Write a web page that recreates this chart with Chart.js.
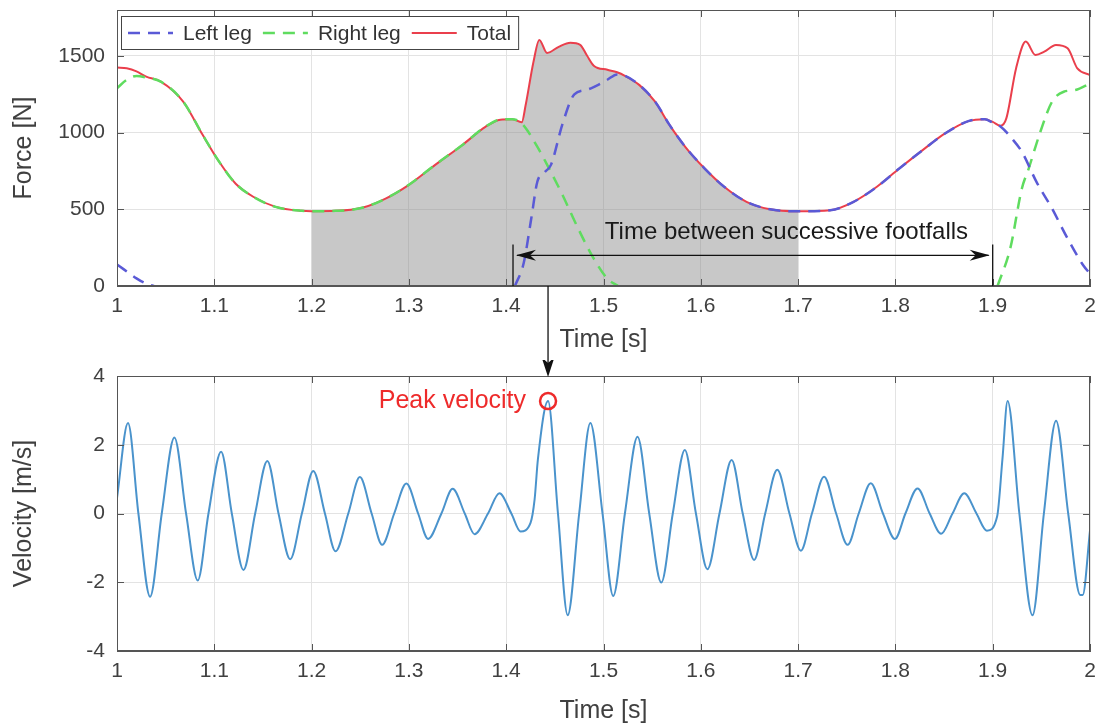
<!DOCTYPE html>
<html>
<head>
<meta charset="utf-8">
<script src="https://cdn.jsdelivr.net/npm/chart.js@4.4.1/dist/chart.umd.min.js"></script>
<style>
  html, body { margin: 0; padding: 0; background: #fff; }
  #top { position: absolute; left: 0; top: 0; width: 1107px; height: 360px; }
  #bottom { position: absolute; left: 0; top: 360px; width: 1107px; height: 367px; }
</style>
</head>
<body>
<div id="top"><canvas id="forceChart"></canvas></div>
<div id="bottom"><canvas id="velChart"></canvas></div>
<script>
// tick values
const timeTicks = [1, 1.1, 1.2, 1.3, 1.4, 1.5, 1.6, 1.7, 1.8, 1.9, 2];
const forceTicks = [0, 500, 1000, 1500];
const velTicks = [-4, -2, 0, 2, 4];

// force traces
const totalT = [1.000,1.010,1.020,1.030,1.045,1.068,1.088,1.105,1.122,1.140,1.163,1.190,1.200,1.225,1.252,1.276,1.300,1.327,1.355,1.379,1.394,1.406,1.416,1.420,1.428,1.434,1.442,1.454,1.466,1.476,1.483,1.490,1.504,1.514,1.522,1.537,1.553,1.568,1.584,1.604,1.624,1.647,1.671,1.700,1.733,1.757,1.781,1.804,1.828,1.851,1.875,1.892,1.900,1.908,1.914,1.924,1.934,1.944,1.953,1.965,1.977,1.987,2.000];
const totalF = [1425,1420,1400,1365,1333,1203,986,810,667,582,516,490,488,490,510,570,660,790,920,1040,1085,1088,1068,1180,1461,1605,1520,1560,1586,1573,1503,1437,1410,1394,1371,1310,1202,1049,908,766,647,549,500,487,494,549,647,766,886,995,1075,1088,1070,1045,1093,1419,1594,1506,1528,1572,1550,1419,1376];

const leftT = [1.000,1.010,1.020,1.030,1.038,1.045,1.409,1.418,1.426,1.432,1.440,1.446,1.458,1.470,1.483,1.497,1.504,1.514,1.522,1.537,1.553,1.568,1.584,1.604,1.624,1.647,1.671,1.700,1.733,1.757,1.781,1.804,1.828,1.851,1.875,1.892,1.900,1.908,1.920,1.930,1.945,1.961,1.977,1.993,2.000];
const leftF = [140,95,50,15,0,null,0,150,450,680,745,790,1060,1250,1280,1320,1345,1380,1371,1310,1202,1049,908,766,647,549,500,487,494,549,647,766,886,995,1075,1088,1065,1040,960,875,679,505,309,135,80];

const rightT = [1.000,1.010,1.020,1.030,1.045,1.068,1.088,1.105,1.122,1.140,1.163,1.190,1.200,1.225,1.252,1.276,1.300,1.327,1.355,1.379,1.394,1.406,1.416,1.431,1.445,1.458,1.474,1.490,1.504,1.515,1.520,1.905,1.918,1.930,1.937,1.949,1.961,1.973,1.985,2.000];
const rightF = [1290,1345,1370,1360,1333,1203,986,810,667,582,516,490,488,490,510,570,660,790,920,1040,1085,1088,1060,919,755,592,374,178,48,0,null,0,244,636,766,1006,1202,1267,1278,1321];

// velocity trace
const velT = [1.000,1.0113,1.022,1.034,1.046,1.059,1.071,1.083,1.094,1.107,1.118,1.130,1.142,1.1545,1.166,1.178,1.190,1.2017,1.2137,1.2246,1.2377,1.2496,1.2617,1.2725,1.2849,1.2974,1.3095,1.3197,1.3334,1.345,1.3574,1.3675,1.3813,1.393,1.4053,1.4147,1.425,1.4292,1.4326,1.443,1.4532,1.4632,1.475,1.4865,1.499,1.510,1.522,1.535,1.547,1.5594,1.5712,1.5836,1.595,1.6068,1.6192,1.6317,1.6431,1.6548,1.6662,1.6786,1.6911,1.7028,1.7142,1.7267,1.7391,1.7509,1.7623,1.7747,1.7872,1.7996,1.8103,1.8228,1.8352,1.847,1.8587,1.8708,1.8833,1.894,1.9046,1.910,1.9153,1.9274,1.9409,1.9526,1.9651,1.9776,1.990,1.9925,2.000];
const velV = [0.45,2.63,0,-2.42,0,2.21,0,-1.95,0,1.80,0,-1.64,0,1.53,0,-1.33,0,1.24,0,-1.10,0,1.06,0,-0.91,0,0.87,0,-0.74,0,0.72,0,-0.60,0,0.59,0,-0.52,-0.27,0.41,1.58,3.27,0,-2.96,0,2.63,0,-2.40,0,2.23,0,-2.01,0,1.85,0,-1.62,0,1.56,0,-1.35,0,1.27,0,-1.08,0,1.07,0,-0.91,0,0.88,0,-0.74,0,0.73,0,-0.59,0,0.59,0,-0.50,-0.08,1.58,3.27,0,-2.96,0,2.70,0,-2.37,-2.37,-0.5];

// annotations
const shadeRange = [1.2, 1.7];
const footT = [1.407, 1.9];
const arrowF = 200;
const barF = 270;
const footLabel = 'Time between successive footfalls';
const footLabelT = 1.688;
const footLabelF = 350;
const peakT = 1.443;
const peakV = 3.27;
const peakLabel = 'Peak velocity';

const FONT = '"Liberation Sans", Arial, sans-serif';
Chart.defaults.font.family = FONT;
Chart.defaults.font.size = 21;
Chart.defaults.color = '#404040';

const pts = (ts, vs) => ts.map((t, i) => ({ x: t, y: vs[i] }));
const shadePts = pts(totalT, totalF).filter(p => p.x >= shadeRange[0] && p.x <= shadeRange[1]);

const arrowHead = (ctx, tx, ty, dx, dy, len, half) => {
    const bx = tx - dx * len, by = ty - dy * len;
    const nx = -dy, ny = dx;
    ctx.beginPath();
    ctx.moveTo(tx, ty);
    ctx.lineTo(bx + nx * half, by + ny * half);
    ctx.lineTo(tx - dx * len * 0.7, ty - dy * len * 0.7);
    ctx.lineTo(bx - nx * half, by - ny * half);
    ctx.closePath();
    ctx.fill();
}

const frame = {
    id: 'frame',
    afterDatasetsDraw(chart) {
        const { ctx, chartArea: a, scales: { x, y } } = chart;
        ctx.save();
        ctx.strokeStyle = '#555';
        ctx.lineWidth = 1;
        ctx.strokeRect(a.left + 0.5, a.top + 0.5, a.width - 1, a.height - 1);
        ctx.beginPath();
        x.ticks.forEach(t => {
            const px = Math.round(x.getPixelForValue(t.value)) + 0.5;
            ctx.moveTo(px, a.bottom); ctx.lineTo(px, a.bottom - 7);
            ctx.moveTo(px, a.top); ctx.lineTo(px, a.top + 7);
        });
        y.ticks.forEach(t => {
            const py = Math.round(y.getPixelForValue(t.value)) + 0.5;
            ctx.moveTo(a.left, py); ctx.lineTo(a.left + 7, py);
            ctx.moveTo(a.right, py); ctx.lineTo(a.right - 7, py);
        });
        ctx.stroke();
        ctx.restore();
    }
};

const boxLegend = {
    id: 'boxLegend',
    afterDatasetsDraw(chart) {
        const { ctx, chartArea: a } = chart;
        const items = chart.data.datasets.slice(0, 3);
        ctx.save();
        ctx.font = '21px ' + FONT;
        const pad = 7, lineLen = 45, gap = 10, sep = 11, h = 33;
        let w = pad;
        items.forEach(d => { w += lineLen + gap + ctx.measureText(d.label).width + sep; });
        w = w - sep + pad;
        const x0 = a.left + 4, y0 = a.top + 6;
        ctx.fillStyle = '#fff';
        ctx.fillRect(x0, y0, w, h);
        ctx.strokeStyle = '#444';
        ctx.lineWidth = 1;
        ctx.strokeRect(x0 + 0.5, y0 + 0.5, w, h);
        let x = x0 + pad;
        const cy = y0 + h / 2 + 0.5;
        items.forEach(d => {
            ctx.beginPath();
            ctx.setLineDash(d.borderDash || []);
            ctx.strokeStyle = d.borderColor;
            ctx.lineWidth = d.borderWidth;
            ctx.moveTo(x, cy); ctx.lineTo(x + lineLen, cy);
            ctx.stroke();
            ctx.setLineDash([]);
            x += lineLen + gap;
            ctx.fillStyle = '#333';
            ctx.textBaseline = 'middle';
            ctx.fillText(d.label, x, cy + 1);
            x += ctx.measureText(d.label).width + sep;
        });
        ctx.restore();
    }
};

const footfalls = {
    id: 'footfalls',
    afterDraw(chart) {
        const { ctx, chartArea: a, scales: { x, y } } = chart;
        const x1 = x.getPixelForValue(footT[0]), x2 = x.getPixelForValue(footT[1]);
        const ya = y.getPixelForValue(arrowF), yb = y.getPixelForValue(barF);
        ctx.save();
        ctx.strokeStyle = '#111';
        ctx.fillStyle = '#111';
        ctx.lineWidth = 1.3;
        ctx.beginPath();
        ctx.moveTo(x1, a.bottom); ctx.lineTo(x1, yb);
        ctx.moveTo(x2, a.bottom); ctx.lineTo(x2, yb);
        ctx.moveTo(x1 + 4, ya); ctx.lineTo(x2 - 4, ya);
        ctx.stroke();
        arrowHead(ctx, x1 + 3, ya, -1, 0, 20, 5.5);
        arrowHead(ctx, x2 - 3, ya, 1, 0, 20, 5.5);
        ctx.font = '24px ' + FONT;
        ctx.textAlign = 'center';
        ctx.textBaseline = 'middle';
        ctx.fillStyle = '#1a1a1a';
        ctx.fillText(footLabel, x.getPixelForValue(footLabelT), y.getPixelForValue(footLabelF));
        // start of the arrow that points to the peak velocity
        const px = x.getPixelForValue(peakT);
        ctx.beginPath();
        ctx.moveTo(px, a.bottom); ctx.lineTo(px, chart.height);
        ctx.stroke();
        ctx.restore();
    }
};

const peakMark = {
    id: 'peakMark',
    afterDraw(chart) {
        const { ctx, scales: { x, y } } = chart;
        const px = x.getPixelForValue(peakT), py = y.getPixelForValue(peakV);
        const tip = py - 24;
        ctx.save();
        ctx.strokeStyle = '#111';
        ctx.fillStyle = '#111';
        ctx.lineWidth = 1.3;
        ctx.beginPath();
        ctx.moveTo(px, 0); ctx.lineTo(px, tip - 6);
        ctx.stroke();
        arrowHead(ctx, px, tip, 0, 1, 20, 6.5);
        ctx.font = '25px ' + FONT;
        ctx.textAlign = 'right';
        ctx.textBaseline = 'middle';
        ctx.fillStyle = '#ee2a2a';
        ctx.fillText(peakLabel, px - 22, py);
        ctx.restore();
    }
};

const xAxis = (h, titlePad) => ({
    type: 'linear', min: 1, max: 2,
    afterBuildTicks: s => { s.ticks = timeTicks.map(v => ({ value: v })); },
    ticks: { padding: 8, maxRotation: 0, autoSkip: false, callback: v => String(v) },
    grid: { color: '#e3e3e3', drawTicks: false },
    border: { color: '#555' },
    title: { display: true, text: 'Time [s]', font: { size: 25 }, padding: { top: 0, bottom: titlePad } },
    afterFit: s => { s.height = h; s.paddingLeft = 0; s.paddingRight = 0; }
});

const yAxis = (min, max, vals, text) => ({
    min: min, max: max,
    afterBuildTicks: s => { s.ticks = vals.map(v => ({ value: v })); },
    ticks: { padding: 12, autoSkip: false, callback: v => String(v) },
    grid: { color: '#e3e3e3', drawTicks: false },
    border: { color: '#555' },
    title: { display: true, text: text, font: { size: 25 }, padding: { top: 9, bottom: 0 } },
    afterFit: s => { s.width = 117; s.paddingTop = 0; s.paddingBottom = 0; }
});

const common = {
    responsive: true,
    maintainAspectRatio: false,
    animation: false,
    plugins: { legend: { display: false }, tooltip: { enabled: false } },
    elements: { point: { radius: 0 } }
};

new Chart(document.getElementById('forceChart'), {
    type: 'line',
    data: {
        datasets: [
            { label: 'Left leg', data: pts(leftT, leftF), borderColor: '#5a5ad6', borderWidth: 2.5, borderDash: [12, 8], cubicInterpolationMode: 'monotone', fill: false },
            { label: 'Right leg', data: pts(rightT, rightF), borderColor: '#5fdc5f', borderWidth: 2.5, borderDash: [12, 8], cubicInterpolationMode: 'monotone', fill: false },
            { label: 'Total', data: pts(totalT, totalF), borderColor: '#ea3f4c', borderWidth: 2, cubicInterpolationMode: 'monotone', fill: false },
            { label: 'shade', data: shadePts, borderWidth: 0, borderColor: 'rgba(0,0,0,0)', backgroundColor: 'rgba(140,140,140,0.48)', cubicInterpolationMode: 'monotone', fill: 'origin' }
        ]
    },
    options: {
        ...common,
        layout: { padding: { top: 10, right: 17, left: 0, bottom: 0 } },
        scales: { x: xAxis(74, 5), y: yAxis(0, 1800, forceTicks, 'Force [N]') }
    },
    plugins: [frame, boxLegend, footfalls]
});

new Chart(document.getElementById('velChart'), {
    type: 'line',
    data: {
        datasets: [
            { label: 'Peak', data: [{ x: peakT, y: peakV }], showLine: false, pointRadius: 8, pointBorderWidth: 2.5, pointBorderColor: '#ee2a2a', pointBackgroundColor: 'rgba(0,0,0,0)' },
            { label: 'Velocity', data: pts(velT, velV), borderColor: '#4a93cc', borderWidth: 2, cubicInterpolationMode: 'monotone', fill: false }
        ]
    },
    options: {
        ...common,
        layout: { padding: { top: 16, right: 17, left: 0, bottom: 0 } },
        scales: { x: xAxis(76, 1), y: yAxis(-4, 4, velTicks, 'Velocity [m/s]') }
    },
    plugins: [frame, peakMark]
});
</script>
</body>
</html>
